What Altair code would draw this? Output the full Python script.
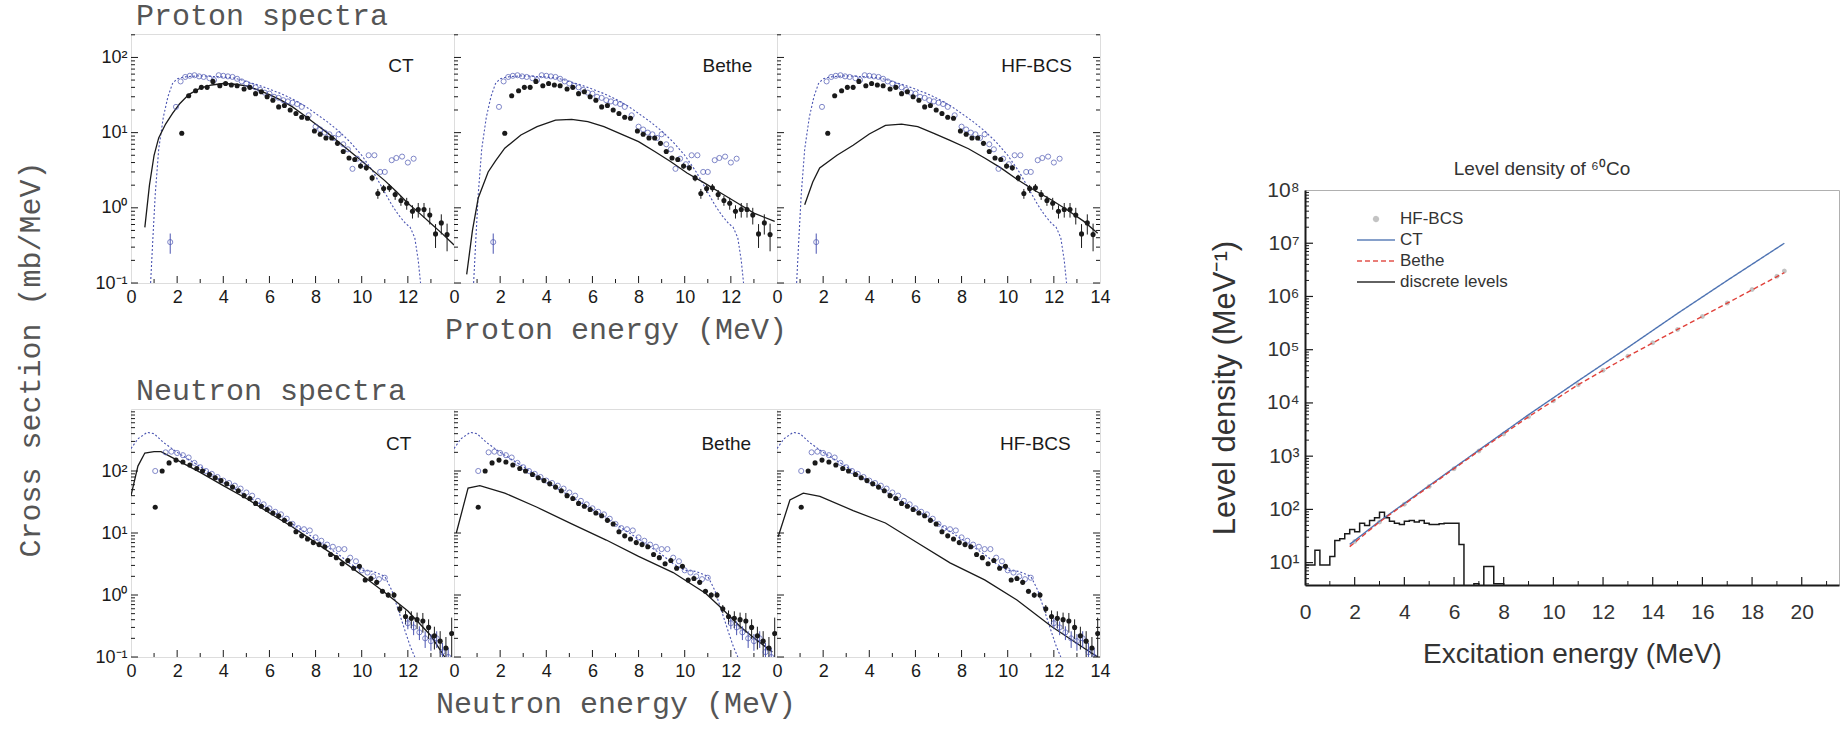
import altair as alt
import pandas as pd

SANS = "Liberation Sans"
MONO = "Liberation Mono"
BLUE = "#4b55b2"
TGRAY = "#555555"
INK = "#1a1a1a"

# ---------------- Proton spectra ----------------
p_exp_E = [2.2, 2.5, 2.8, 3.05, 3.3, 3.55, 3.85, 4.1, 4.35, 4.6, 4.9, 5.15, 5.4, 5.65, 5.9, 6.15, 6.4, 6.65, 6.9, 7.15,
           7.4, 7.65, 7.95, 8.2, 8.45, 8.7, 8.95, 9.2, 9.45, 9.7, 9.95, 10.2, 10.45, 10.7, 10.95, 11.2, 11.45, 11.7, 11.95, 12.2,
           12.45, 12.7, 12.95, 13.2, 13.45, 13.7]
p_exp_v = [9.8, 31, 36, 40, 40, 48, 42, 45, 43, 42, 38, 40, 33, 35, 30, 27, 22, 23, 20, 18,
           16, 15.5, 10.5, 9.5, 8.5, 8.5, 7.2, 5.6, 4.6, 4.4, 3.6, 3.4, 2.5, 1.55, 1.8, 1.85, 1.5, 1.25, 1.15, 0.9,
           0.95, 0.95, 0.8, 0.45, 0.63, 0.44]
p_exp_err = [0.05, 0.05, 0.05, 0.05, 0.05, 0.05, 0.05, 0.05, 0.05, 0.05, 0.05, 0.05, 0.05, 0.05, 0.05, 0.05, 0.05, 0.05, 0.05, 0.05,
             0.05, 0.05, 0.05, 0.05, 0.05, 0.05, 0.05, 0.05, 0.05, 0.05, 0.08, 0.08, 0.1, 0.15, 0.12, 0.12, 0.15, 0.15, 0.18, 0.2,
             0.22, 0.22, 0.25, 0.35, 0.3, 0.4]

p_alt_E = [1.7, 1.95, 2.15, 2.35, 2.55, 2.75, 2.95, 3.15, 3.4, 3.6, 3.8, 4.0, 4.2, 4.4, 4.6, 4.8, 5.0, 5.2, 5.4, 5.6,
           5.8, 6.0, 6.2, 6.4, 6.6, 6.8, 7.0, 7.2, 7.4, 7.7, 8.0, 8.2, 8.4, 8.6, 8.8, 9.0, 9.2, 9.4, 9.6, 9.8,
           10.05, 10.3, 10.55, 10.8, 11.0, 11.3, 11.5, 11.75, 12.0, 12.25]
p_alt_v = [0.35, 22, 48, 55, 57, 58, 56, 55, 53, 50, 58, 57, 56, 55, 52, 48, 45, 42, 40, 37,
           34, 33, 30, 29, 27, 26, 25, 24, 22, 17, 12, 11, 10, 9.5, 8.5, 9.5, 7, 6, 3.3, 4.5,
           3.8, 5, 5, 3, 3, 4.3, 4.6, 4.8, 4, 4.5]
p_alt_err = [0.3, 0, 0, 0, 0, 0, 0, 0, 0, 0, 0, 0, 0, 0, 0, 0, 0, 0, 0, 0,
             0, 0, 0, 0, 0, 0, 0, 0, 0, 0, 0, 0, 0, 0, 0, 0, 0, 0, 0, 0,
             0, 0, 0, 0, 0, 0, 0, 0, 0, 0]

p_dot_E = [0.85, 0.95, 1.05, 1.2, 1.4, 1.6, 1.8, 2.0, 2.3, 2.6, 3.0, 3.5, 4.0, 4.5, 5.0, 5.5, 6.0, 6.5, 7.0, 7.5,
           8.0, 8.5, 9.0, 9.5, 10.0, 10.5, 11.0, 11.3, 11.6, 11.9, 12.1, 12.3, 12.45, 12.55]
p_dot_v = [0.1, 0.4, 1.5, 6, 16, 30, 45, 52, 55, 56, 57, 56, 55, 53, 48, 43, 38, 33, 28, 23,
           18, 14, 10.5, 7.5, 5.0, 3.0, 1.6, 1.1, 0.8, 0.62, 0.55, 0.4, 0.2, 0.1]

p_ct_E = [0.6, 0.8, 1.0, 1.2, 1.5, 1.8, 2.1, 2.5, 3.0, 3.5, 4.0, 4.5, 5.0, 5.5, 6.0, 6.5, 7.0, 7.5, 8.0, 8.5,
          9.0, 9.5, 10.0, 10.5, 11.0, 11.5, 12.0, 12.5, 13.0, 13.5, 14.0]
p_ct_v = [0.55, 2.0, 5.0, 8.5, 13, 18, 24, 32, 39, 43, 45, 44, 42, 37, 32, 27, 22, 17, 13, 10,
          7.5, 5.6, 4.2, 3.1, 2.3, 1.65, 1.15, 0.85, 0.62, 0.45, 0.32]
p_be_E = [0.55, 0.8, 1.05, 1.48, 1.8, 2.2, 2.9, 3.6, 4.4, 5.1, 5.8, 6.5, 7.2, 8.0, 8.7, 9.4, 10.1, 10.9, 11.6, 12.3,
          13.0, 13.9]
p_be_v = [0.13, 0.5, 1.35, 3.0, 4.2, 6.2, 9.3, 12, 14.7, 15, 14, 12, 9.7, 7.6, 5.6, 4.1, 2.9, 2.1, 1.55, 1.15,
          0.85, 0.66]
p_hf_E = [1.2, 1.55, 1.85, 2.6, 3.3, 4.0, 4.7, 5.4, 6.1, 6.8, 7.5, 8.3, 9.0, 9.7, 10.4, 11.1, 11.9, 12.6, 13.3, 13.9]
p_hf_v = [1.1, 2.2, 3.4, 5.0, 6.8, 9.6, 12.5, 13, 12, 9.8, 7.9, 6.1, 4.6, 3.4, 2.4, 1.75, 1.27, 0.93, 0.66, 0.46]

# ---------------- Neutron spectra ----------------
n_exp_E = [1.05, 1.35, 1.65, 1.95, 2.25, 2.55, 2.85, 3.1, 3.4, 3.65, 3.9, 4.15, 4.4, 4.65, 4.9, 5.15, 5.4, 5.65, 5.9, 6.15,
           6.4, 6.65, 6.9, 7.15, 7.4, 7.65, 7.9, 8.15, 8.4, 8.65, 8.9, 9.15, 9.4, 9.65, 9.9, 10.15, 10.4, 10.65, 10.9, 11.15,
           11.4, 11.65, 11.9, 12.15, 12.4, 12.65, 12.9, 13.15, 13.4, 13.65, 13.9]
n_exp_v = [26, 100, 135, 150, 140, 125, 110, 100, 88, 78, 70, 62, 55, 48, 40, 36, 30, 27, 24, 21,
           19, 16, 14, 10.5, 9.0, 8.0, 7.0, 6.5, 6.0, 4.5, 4.0, 3.2, 3.6, 2.7, 2.9, 1.75, 1.85, 1.6, 1.15, 1.0,
           1.0, 0.6, 0.45, 0.42, 0.40, 0.38, 0.30, 0.22, 0.18, 0.14, 0.24]
n_exp_err = [0.05, 0.05, 0.05, 0.05, 0.05, 0.05, 0.05, 0.05, 0.05, 0.05, 0.05, 0.05, 0.05, 0.05, 0.05, 0.05, 0.05, 0.05, 0.05, 0.05,
             0.05, 0.05, 0.05, 0.05, 0.05, 0.05, 0.05, 0.05, 0.05, 0.05, 0.05, 0.05, 0.05, 0.05, 0.05, 0.06, 0.06, 0.08, 0.08, 0.1,
             0.12, 0.15, 0.25, 0.3, 0.3, 0.35, 0.35, 0.4, 0.45, 0.5, 0.8]

n_alt_E = [1.05, 1.5, 1.75, 2.0, 2.25, 2.5, 2.75, 3.0, 3.25, 3.5, 3.75, 4.0, 4.25, 4.5, 4.75, 5.0, 5.25, 5.5, 5.75, 6.0,
           6.25, 6.5, 6.75, 7.0, 7.25, 7.5, 7.75, 8.0, 8.25, 8.5, 8.75, 9.0, 9.25, 9.5, 9.75, 10.0, 10.25, 10.5, 10.75, 11.0,
           12.0, 12.25, 12.5, 12.75, 13.0, 13.25, 13.5, 13.75]
n_alt_v = [100, 200, 205, 195, 180, 165, 135, 115, 100, 90, 80, 70, 64, 58, 52, 45, 40, 33, 29, 25,
           22, 20, 17, 14, 12, 11.5, 11.0, 8.5, 7.5, 6.5, 6.0, 5.5, 5.5, 4.0, 3.5, 2.5, 2.3, 2.0, 1.8, 1.9,
           0.35, 0.3, 0.25, 0.2, 0.18, 0.2, 0.12, 0.1]
n_alt_err = [0, 0, 0, 0, 0, 0, 0, 0, 0, 0, 0, 0, 0, 0, 0, 0, 0, 0, 0, 0,
             0, 0, 0, 0, 0, 0, 0, 0, 0, 0, 0, 0, 0, 0, 0, 0, 0, 0, 0, 0,
             0.2, 0.25, 0.25, 0.3, 0.3, 0.3, 0.4, 0.4]

n_dot_E = [0.0, 0.3, 0.7, 1.0, 1.4, 2.0, 3.0, 4.0, 5.0, 6.0, 7.0, 8.0, 9.0, 9.5, 10.0, 10.5, 11.0, 11.3, 11.6, 11.9,
           12.1, 12.3]
n_dot_v = [230, 330, 420, 400, 290, 200, 118, 66, 40, 24, 14, 8.0, 4.5, 3.2, 2.5, 2.4, 2.0, 1.2, 0.55, 0.25,
           0.15, 0.1]

n_ct_E = [0.0, 0.3, 0.6, 1.0, 1.3, 2.0, 3.0, 4.0, 5.0, 6.0, 7.0, 8.0, 9.0, 10.0, 11.0, 12.0, 13.0, 13.6]
n_ct_v = [40, 120, 195, 205, 205, 150, 95, 58, 36, 21, 12.5, 7.0, 3.9, 2.1, 1.1, 0.55, 0.22, 0.1]
n_be_E = [0.1, 0.61, 1.12, 2.2, 3.6, 5.1, 6.6, 8.0, 9.5, 10.9, 11.6, 12.4, 13.1, 13.8]
n_be_v = [10, 53, 58, 44, 26, 14, 7.7, 4.2, 2.3, 1.07, 0.61, 0.31, 0.19, 0.12]
n_hf_E = [0.05, 0.56, 1.14, 1.86, 3.3, 4.7, 6.1, 7.5, 9.0, 10.4, 11.9, 13.3, 13.9]
n_hf_v = [8.7, 34, 44, 39, 23, 14.5, 6.9, 3.3, 1.75, 0.83, 0.31, 0.14, 0.1]

# ---------------- Level density of 60Co ----------------
ld_models = ["HF-BCS", "CT", "Bethe", "discrete levels"]
ct_E = [1.8, 3, 5, 7, 9, 11, 13, 15, 17, 19.3]
ct_v = [22, 60, 2.8e2, 1.3e3, 6.0e3, 2.6e4, 1.1e5, 4.8e5, 2.0e6, 1.0e7]
be_E = [1.8, 3, 5, 7, 9, 11, 13, 15, 17, 19.3]
be_v = [20, 58, 2.7e2, 1.25e3, 5.5e3, 2.2e4, 7.5e4, 2.4e5, 7.5e5, 2.8e6]
hf_E = [2, 3, 4, 5, 6, 7, 8, 9, 10, 11, 12, 13, 14, 15, 16, 17, 18, 19, 19.3]
hf_v = [25, 58, 125, 270, 580, 1.25e3, 2.6e3, 5.5e3, 1.1e4, 2.2e4, 4.1e4, 7.5e4, 1.35e5, 2.4e5, 4.2e5, 7.5e5,
        1.35e6, 2.4e6, 3.0e6]
disc_E = [0.0, 0.2, 0.4, 0.6, 0.8, 1.0, 1.2, 1.4, 1.6, 1.8, 2.0, 2.2, 2.4, 2.6, 2.8, 3.0, 3.2, 3.4, 3.6, 3.8,
          4.0, 4.2, 4.4, 4.6, 4.8, 5.0, 5.2, 5.4, 5.6, 5.8, 6.0, 6.2, 6.4, 6.6, 6.8, 7.0, 7.2, 7.4, 7.6, 7.8, 8.0]
disc_v = [9, 9, 17, 9, 9, 13, 26, 28, 35, 42, 38, 55, 50, 62, 70, 88, 70, 60, 55, 52,
          60, 62, 58, 62, 55, 52, 52, 54, 55, 55, 55, 22, 1, 1, 4, 1, 8.5, 8.5, 4, 4, 1]

SUP = {-1: "\u207b\u00b9", 0: "\u2070", 1: "\u00b9", 2: "\u00b2", 3: "\u00b3", 4: "\u2074",
       5: "\u2075", 6: "\u2076", 7: "\u2077", 8: "\u2078"}


def log_labels(lo, hi):
    arr = ",".join("'10" + SUP[k] + "'" for k in range(lo, hi + 1))
    return "[" + arr + "][round(log(datum.value)/LN10) - (" + str(lo) + ")]"


def frame(E, v, err=None):
    d = pd.DataFrame({"E": E, "v": v})
    if err is not None:
        d["err"] = err
        d["lo"] = d["v"] * (1 - d["err"])
        d["hi"] = d["v"] * (1 + d["err"])
    return d


def minor_log(lo_val, hi_val):
    out = []
    k = -2
    while 10.0 ** k <= hi_val:
        for m in range(2, 10):
            t = m * 10.0 ** k
            if lo_val < t < hi_val:
                out.append(t)
        k += 1
    return out


def spectra_panel(exp, alt_, dot, mod, label, lab_E, lab_v, ydom, lo_dec, hi_dec,
                  xvals, show_y, xtitle, W, H, right_ticks, title=None, tpad=8):
    xs = alt.Scale(domain=[0, 14], nice=False, zero=False)
    ys = alt.Scale(type="log", domain=ydom, nice=False)
    xaxis = alt.Axis(values=xvals, labelFlush=False, labelOverlap=False, ticks=False, domain=False,
                     grid=False, labelFont=SANS, labelFontSize=18, labelColor=INK, labelPadding=5,
                     title=xtitle, titleFont=MONO, titleFontSize=30, titleFontWeight="normal",
                     titleColor=TGRAY, titlePadding=tpad)
    if show_y:
        yaxis = alt.Axis(values=[10.0 ** k for k in range(lo_dec, hi_dec + 1)],
                         labelExpr=log_labels(lo_dec, hi_dec), ticks=False, domain=False, grid=False,
                         labelFont=SANS, labelFontSize=18, labelColor=INK, labelPadding=4,
                         labelOverlap=False, title="")
    else:
        yaxis = None

    def X(f="E"):
        return alt.X(f + ":Q", scale=xs, axis=xaxis)

    def Y(f="v"):
        return alt.Y(f + ":Q", scale=ys, axis=yaxis)

    layers = [
        alt.Chart(dot).mark_line(color=BLUE, strokeDash=[2, 2], strokeWidth=1.1, clip=True).encode(x=X(), y=Y()),
        alt.Chart(mod).mark_line(color=INK, strokeWidth=1.3, clip=True).encode(x=X(), y=Y()),
        alt.Chart(exp[exp.err > 0]).mark_rule(color=INK, strokeWidth=1, clip=True).encode(
            x=X(), y=Y("lo"), y2=alt.Y2("hi")),
        alt.Chart(alt_[alt_.err > 0]).mark_rule(color=BLUE, strokeWidth=1, clip=True).encode(
            x=X(), y=Y("lo"), y2=alt.Y2("hi")),
        alt.Chart(alt_).mark_point(shape="circle", filled=False, color=BLUE, size=26, strokeWidth=1,
                                   clip=True).encode(x=X(), y=Y()),
        alt.Chart(exp).mark_point(shape="circle", filled=True, color=INK, size=26, opacity=1,
                                  clip=True).encode(x=X(), y=Y()),
    ]
    ymaj = pd.DataFrame({"v": [10.0 ** k for k in range(lo_dec, hi_dec + 1)]})
    ymin = pd.DataFrame({"v": minor_log(ydom[0], ydom[1])})
    xmaj = pd.DataFrame({"E": [2, 4, 6, 8, 10, 12]})
    xmin = pd.DataFrame({"E": [1, 3, 5, 7, 9, 11, 13]})
    layers += [
        alt.Chart(ymaj).mark_rule(color=INK, strokeWidth=1).encode(y=Y(), x=alt.value(0), x2=alt.value(7)),
        alt.Chart(ymin).mark_rule(color=INK, strokeWidth=1).encode(y=Y(), x=alt.value(0), x2=alt.value(4)),
        alt.Chart(xmaj).mark_rule(color=INK, strokeWidth=1).encode(x=X(), y=alt.value(H), y2=alt.value(H - 7)),
        alt.Chart(xmin).mark_rule(color=INK, strokeWidth=1).encode(x=X(), y=alt.value(H), y2=alt.value(H - 4)),
    ]
    if right_ticks:
        layers += [
            alt.Chart(ymaj).mark_rule(color=INK, strokeWidth=1).encode(y=Y(), x=alt.value(W), x2=alt.value(W - 7)),
            alt.Chart(ymin).mark_rule(color=INK, strokeWidth=1).encode(y=Y(), x=alt.value(W), x2=alt.value(W - 4)),
        ]
    lab = pd.DataFrame({"E": [lab_E], "v": [lab_v], "t": [label]})
    layers.append(alt.Chart(lab).mark_text(font=SANS, fontSize=19, color=INK).encode(
        x=X(), y=Y(), text="t:N"))
    ch = alt.layer(*layers).properties(width=W, height=H)
    if title:
        ch = ch.properties(title=alt.Title(title, anchor="start", frame="group", font=MONO, fontSize=30,
                                           fontWeight="normal", color=TGRAY, dx=5, offset=3))
    return ch


PW = 323
pe = frame(p_exp_E, p_exp_v, p_exp_err)
pa = frame(p_alt_E, p_alt_v, p_alt_err)
pdot = frame(p_dot_E, p_dot_v)
ne = frame(n_exp_E, n_exp_v, n_exp_err)
na = frame(n_alt_E, n_alt_v, n_alt_err)
ndot = frame(n_dot_E, n_dot_v)
x12 = [0, 2, 4, 6, 8, 10, 12]
x14 = [0, 2, 4, 6, 8, 10, 12, 14]

top = alt.hconcat(
    spectra_panel(pe, pa, pdot, frame(p_ct_E, p_ct_v), "CT", 11.7, 77, [0.1, 205], -1, 2, x12, True, "",
                  PW, 249, False, "Proton spectra"),
    spectra_panel(pe, pa, pdot, frame(p_be_E, p_be_v), "Bethe", 11.85, 77, [0.1, 205], -1, 2, x12, False,
                  "Proton energy (MeV)", PW, 249, False),
    spectra_panel(pe, pa, pdot, frame(p_hf_E, p_hf_v), "HF-BCS", 11.25, 77, [0.1, 205], -1, 2, x14, False, "",
                  PW, 249, True),
    spacing=0, bounds="flush")

bottom = alt.hconcat(
    spectra_panel(ne, na, ndot, frame(n_ct_E, n_ct_v), "CT", 11.6, 275, [0.1, 1000], -1, 2, x12, True, "",
                  PW, 248, False, "Neutron spectra"),
    spectra_panel(ne, na, ndot, frame(n_be_E, n_be_v), "Bethe", 11.8, 275, [0.1, 1000], -1, 2, x12, False,
                  "Neutron energy (MeV)", PW, 248, False, tpad=8),
    spectra_panel(ne, na, ndot, frame(n_hf_E, n_hf_v), "HF-BCS", 11.2, 275, [0.1, 1000], -1, 2, x14, False, "",
                  PW, 248, True),
    spacing=0, bounds="flush")

left = alt.vconcat(top, bottom, spacing=30,
                   title=alt.Title("Cross section (mb/MeV)", orient="left", anchor="middle", font=MONO,
                                   fontSize=30, fontWeight="normal", color=TGRAY, offset=48))

# ---------------- right panel ----------------
RW, RH = 534, 395
r_xs = alt.Scale(domain=[0, 21.5], nice=False, zero=False)
r_ys = alt.Scale(type="log", domain=[3.8, 1e8], nice=False)
r_xaxis = alt.Axis(values=list(range(0, 21, 2)), labelFlush=False, labelOverlap=False, ticks=False,
                   domain=True, domainColor=INK, domainWidth=2, grid=False, labelFont=SANS, labelFontSize=21,
                   labelColor="#333", labelPadding=16, title="Excitation energy (MeV)", titleFont=SANS,
                   titleFontSize=28, titleFontWeight="normal", titleColor="#333", titlePadding=18)
r_yaxis = alt.Axis(values=[10.0 ** k for k in range(1, 9)], labelExpr=log_labels(1, 8), ticks=False,
                   domain=True, domainColor=INK, domainWidth=2, grid=False, labelFont=SANS, labelFontSize=21,
                   labelColor="#333", labelPadding=6, labelOverlap=False, title="Level density (MeV\u207b\u00b9)",
                   titleFont=SANS, titleFontSize=31, titleFontWeight="normal", titleColor="#333", titlePadding=25)


def RX():
    return alt.X("E:Q", scale=r_xs, axis=r_xaxis)


def RY():
    return alt.Y("v:Q", scale=r_ys, axis=r_yaxis)


DOT = "M0.25,0L0.177,0.177L0,0.25L-0.177,0.177L-0.25,0L-0.177,-0.177L0,-0.25L0.177,-0.177Z"
LINE = "M-1.9,0L1.9,0"
cscale = alt.Scale(domain=ld_models, range=["#bdbdbd", "#4f74b3", "#e0413a", INK])
dscale = alt.Scale(domain=ld_models, range=[[1, 0], [1, 0], [5, 3], [1, 0]])
sscale = alt.Scale(domain=ld_models, range=[DOT, LINE, LINE, LINE])
leg = alt.Legend(title=None, orient="none", legendX=1234, legendY=174, labelFont=SANS, labelFontSize=17,
                 labelColor="#333", symbolSize=400, symbolStrokeWidth=1.5, rowPadding=2, labelOffset=13)
COL = alt.Color("model:N", scale=cscale, legend=leg)
DASH = alt.StrokeDash("model:N", scale=dscale, legend=leg)
SHP = alt.Shape("model:N", scale=sscale, legend=leg)

disc_df = pd.DataFrame({"E": disc_E, "v": disc_v, "model": "discrete levels"})
lines_df = pd.concat([pd.DataFrame({"E": ct_E, "v": ct_v, "model": "CT"}),
                      pd.DataFrame({"E": be_E, "v": be_v, "model": "Bethe"})])
hf_df = pd.DataFrame({"E": hf_E, "v": hf_v, "model": "HF-BCS"})

r_ymaj = pd.DataFrame({"v": [10.0 ** k for k in range(1, 8)]})
r_ymin = pd.DataFrame({"v": minor_log(3.8, 1e8)})
r_xmaj = pd.DataFrame({"E": list(range(2, 21, 2))})
r_xmin = pd.DataFrame({"E": list(range(1, 22, 2))})

right = alt.layer(
    alt.Chart(r_ymaj).mark_rule(color=INK, strokeWidth=1.2).encode(y=RY(), x=alt.value(0), x2=alt.value(8)),
    alt.Chart(r_ymin).mark_rule(color=INK, strokeWidth=1).encode(y=RY(), x=alt.value(0), x2=alt.value(4)),
    alt.Chart(r_xmaj).mark_rule(color=INK, strokeWidth=1.2).encode(x=RX(), y=alt.value(RH), y2=alt.value(RH - 8)),
    alt.Chart(r_xmin).mark_rule(color=INK, strokeWidth=1).encode(x=RX(), y=alt.value(RH), y2=alt.value(RH - 4)),
    alt.Chart(hf_df).mark_point(filled=True, size=400, opacity=0.9, clip=True).encode(
        x=RX(), y=RY(), color=COL, shape=SHP),
    alt.Chart(disc_df).mark_line(interpolate="step-after", strokeWidth=1.5, clip=True).encode(
        x=RX(), y=RY(), color=COL, strokeDash=DASH),
    alt.Chart(lines_df).mark_line(strokeWidth=1.4, clip=True).encode(
        x=RX(), y=RY(), color=COL, strokeDash=DASH),
).properties(width=RW, height=RH,
             title=alt.Title("Level density of \u2076\u2070Co", font=SANS, fontSize=19, fontWeight="normal",
                             color="#333", offset=0, dx=-30),
             view=alt.ViewBackground(stroke="#b0b0b0", strokeWidth=1))

spacer = alt.Chart(pd.DataFrame({"E": [0]})).mark_point(opacity=0).properties(
    width=1, height=124, view=alt.ViewBackground(stroke="transparent"))
right_col = alt.vconcat(spacer, right, spacing=0)

chart = alt.hconcat(left, right_col, spacing=98).properties(
    padding={"left": 16, "top": 0, "right": 0, "bottom": 6}, background="white"
).configure_view(stroke=INK, strokeWidth=1.2).configure(font=SANS)

chart.save("out.html", embed_options={"renderer": "svg", "actions": False})
